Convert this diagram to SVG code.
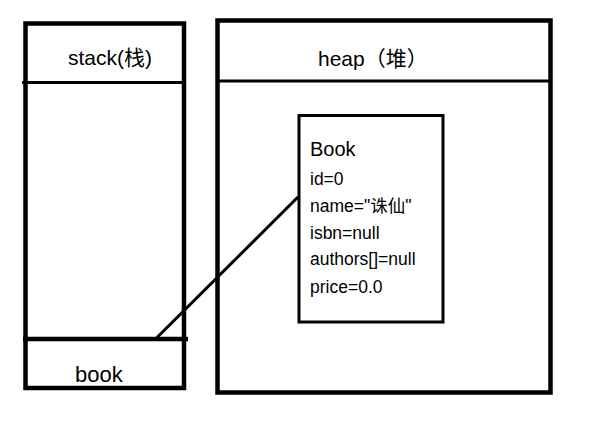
<svg xmlns="http://www.w3.org/2000/svg" width="590" height="429" viewBox="0 0 590 429">
<style>
.box{fill:none;stroke:#000;stroke-width:4.5}
.thin{fill:none;stroke:#000;stroke-width:3}
.t{font-family:"Liberation Sans","Noto Sans CJK SC",sans-serif;fill:#000}
.title{font-size:21px}
.f{font-size:17.5px}
</style>
<rect width="590" height="429" fill="#fff"/>
<g id="stack">
<rect class="box" x="25.5" y="23.5" width="158.5" height="364.5"/>
<line class="thin" x1="22" y1="82.5" x2="184" y2="82.5"/>
<text class="t title" x="68" y="65">stack(栈)</text>
</g>
<g id="book-ref">
<line class="box" x1="23" y1="339" x2="188" y2="339"/>
<text class="t" style="font-size:22px" x="75" y="382">book</text>
</g>
<g id="heap">
<rect class="box" x="217.5" y="20.5" width="333" height="372"/>
<line class="thin" x1="217" y1="81" x2="551" y2="81"/>
<text class="t title" x="318" y="66">heap（堆）</text>
</g>
<g id="book-obj">
<rect class="thin" x="299" y="115.5" width="144" height="206.5"/>
<text class="t" style="font-size:20px" x="310" y="156">Book</text>
<text class="t f" x="310" y="185">id=0</text>
<text class="t f" x="310" y="212">name="诛仙"</text>
<text class="t f" x="310" y="238.5">isbn=null</text>
<text class="t f" x="310" y="265">authors[]=null</text>
<text class="t f" x="310" y="292.5">price=0.0</text>
</g>
<g id="connectors">
<line class="thin" x1="157" y1="337.5" x2="298" y2="197"/>
</g>
</svg>
